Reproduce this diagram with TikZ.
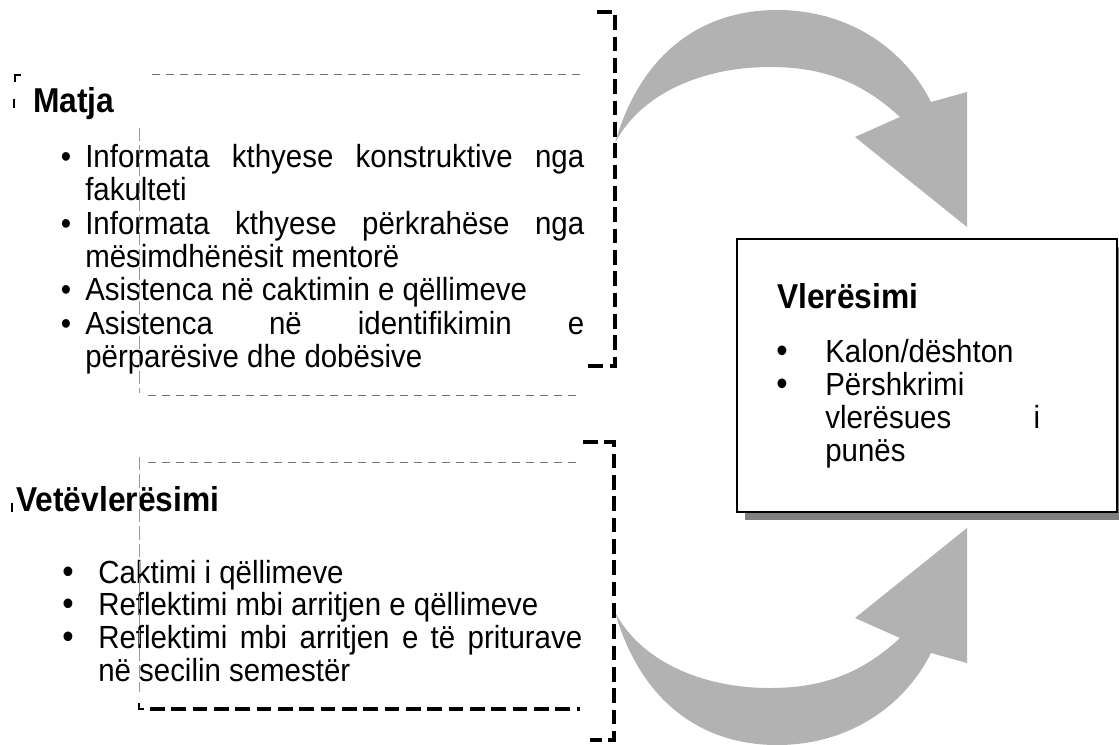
\documentclass[tikz,border=0pt]{standalone}
\usepackage{fontspec}
\usepackage{graphicx}
\setmainfont{Liberation Sans}[FakeStretch=0.92]
\definecolor{arrowgray}{RGB}{178,178,178}
\definecolor{shadowgray}{RGB}{128,128,128}
\newcommand\jline[2]{\makebox[#1][s]{#2}}
\begin{document}
\begin{tikzpicture}[x=0.75pt,y=-0.75pt,
  txt/.style={inner sep=0pt, anchor=base west, font=\fontsize{24}{28}\selectfont},
  head/.style={inner sep=0pt, anchor=base west, font=\bfseries\fontsize{25.9}{30}\selectfont},
  bul/.style={inner sep=0pt, anchor=base, font=\fontsize{24}{28}\selectfont},
  thickdash/.style={line width=2.4pt, dash pattern=on 11pt off 5pt},
  graydash/.style={draw=black!55, line width=0.6pt, dash pattern=on 6pt off 4.5pt},
  grayvert/.style={draw=black!40, line width=0.5pt, dash pattern=on 10pt off 3pt},
  boxstyle/.style={draw, line width=2pt, fill=white, inner sep=0pt,
    minimum width=285pt, minimum height=204.75pt}]
\useasboundingbox (0,0) rectangle (1119,744);

% curved arrows
\fill[arrowgray] (615,143) .. controls (640,55) and (700,10) .. (777,10)
  .. controls (850,10) and (905,50) .. (931,102) -- (967,92) -- (967,227)
  -- (855,137) -- (900,117) .. controls (860,80) and (820,67) .. (770,67)
  .. controls (700,67) and (640,95) .. (615,143) -- cycle;
\begin{scope}[shift={(0,755)}, yscale=-1]
\fill[arrowgray] (615,143) .. controls (640,55) and (700,10) .. (777,10)
  .. controls (850,10) and (905,50) .. (931,102) -- (967,92) -- (967,227)
  -- (855,137) -- (900,117) .. controls (860,80) and (820,67) .. (770,67)
  .. controls (700,67) and (640,95) .. (615,143) -- cycle;
\end{scope}

% box with shadow
\fill[shadowgray] (745,247) rectangle (1125,520);
\node[boxstyle] (box) at (927,375.5) {};
\node[head] (vl) at (777,308) {Vlerësimi};
\node[bul] (vb1) at (782,362) {\scalebox{1.1}{\textbullet}};
\node[txt] (vl1) at (825,362) {Kalon/dështon};
\node[bul] (vb2) at (782,395) {\scalebox{1.1}{\textbullet}};
\node[txt] (vl2) at (825,395) {Përshkrimi};
\node[txt] (vl3) at (825,428) {\jline{161.25pt}{vlerësues i}};
\node[txt] (vl4) at (825,461) {punës};

% Matja block
\draw[line width=0.9pt] (15,82) -- (15,75) -- (21,75);
\draw[line width=1.5pt] (14,99) -- (14,108);
\node[head] (matja) at (33,112) {Matja};
\node[bul] (mb1) at (66,167) {\textbullet};
\node[txt] (m1) at (85,167) {\jline{374.25pt}{Informata kthyese konstruktive nga}};
\node[txt] (m2) at (85,200) {fakulteti};
\node[bul] (mb2) at (66,234) {\textbullet};
\node[txt] (m3) at (85,234) {\jline{374.25pt}{Informata kthyese përkrahëse nga}};
\node[txt] (m4) at (85,267) {mësimdhënësit mentorë};
\node[bul] (mb3) at (66,300) {\textbullet};
\node[txt] (m5) at (85,300) {Asistenca në caktimin e qëllimeve};
\node[bul] (mb4) at (66,334) {\textbullet};
\node[txt] (m6) at (85,334) {\jline{374.25pt}{Asistenca në identifikimin e}};
\node[txt] (m7) at (85,367) {përparësive dhe dobësive};

\draw[graydash] (152,74) -- (583,74);
\draw[grayvert] (139,128) -- (139,393);
\draw[graydash] (148,395) -- (578,395);
\draw[thickdash] (597,12) -- (615,12) -- (615,366) -- (583,366);

% Vetevleresimi block
\draw[line width=1.5pt] (12,503) -- (12,512);
\node[head] (vete) at (16,511) {Vetëvlerësimi};
\node[bul] (vb1l) at (68,583) {\scalebox{1.1}{\textbullet}};
\node[txt] (v1) at (98,583) {Caktimi i qëllimeve};
\node[bul] (vb2l) at (68,615) {\scalebox{1.1}{\textbullet}};
\node[txt] (v2) at (98,615) {Reflektimi mbi arritjen e qëllimeve};
\node[bul] (vb3l) at (68,648) {\scalebox{1.1}{\textbullet}};
\node[txt] (v3) at (98,648) {\jline{363pt}{Reflektimi mbi arritjen e të priturave}};
\node[txt] (v4) at (98,681) {në secilin semestër};

\draw[grayvert] (139,457) -- (139,692);
\draw[graydash] (148,462) -- (578,462);
\draw[line width=1.2pt] (139,703) -- (139,709) -- (144,709);
\draw[thickdash] (150,709) -- (580,709);
\draw[thickdash] (583,442) -- (614,442) -- (614,740) -- (590,740);
\end{tikzpicture}
\end{document}
